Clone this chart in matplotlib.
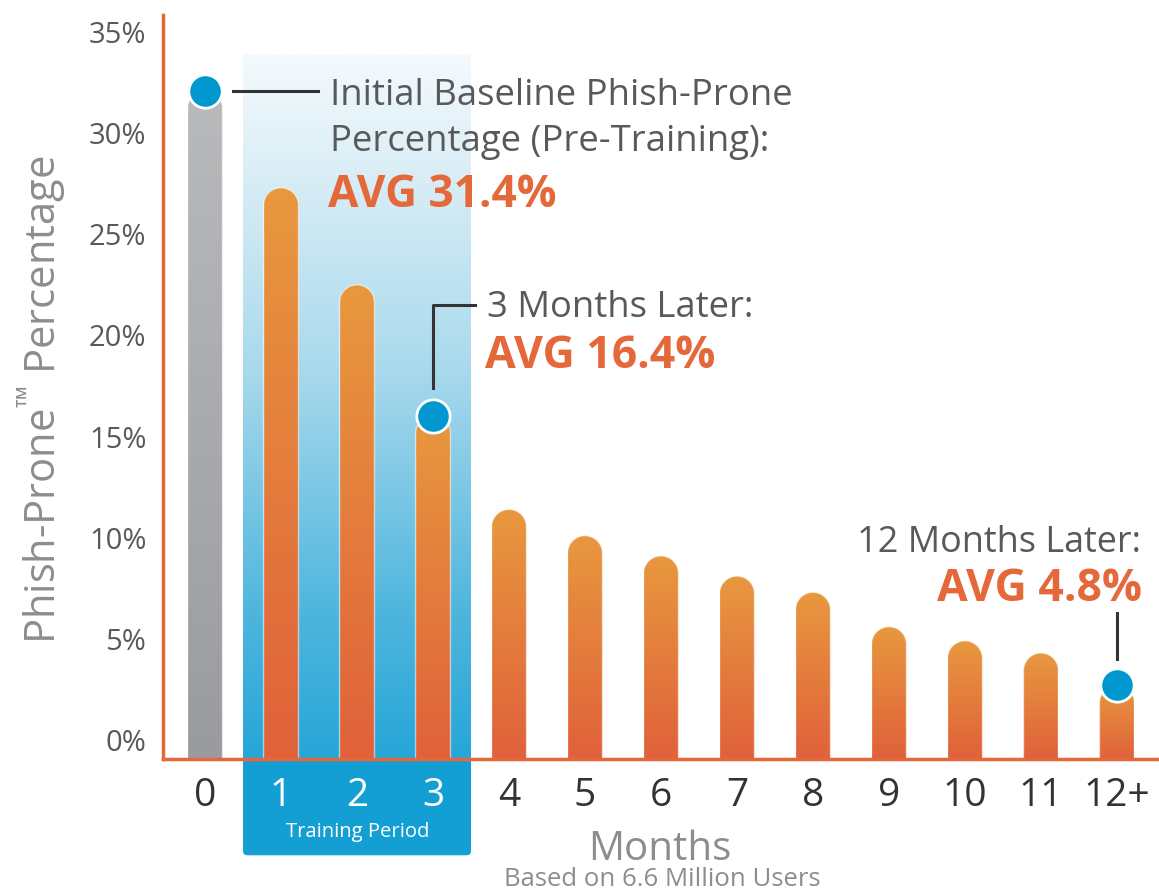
import numpy as np
import matplotlib.pyplot as plt
from matplotlib.patches import FancyBboxPatch, Polygon
from matplotlib.colors import LinearSegmentedColormap

plt.rcParams['font.family'] = ['Open Sans', 'DejaVu Sans']
plt.rcParams['mathtext.fontset'] = 'custom'
plt.rcParams['mathtext.rm'] = 'Open Sans'

# data
months = ['0', '1', '2', '3', '4', '5', '6', '7', '8', '9', '10', '11', '12+']
phish_prone = [32.1, 27.3, 22.5, 16.0, 11.4, 10.1, 9.1, 8.1, 7.3, 5.6, 4.9, 4.3, 2.7]
marked = [0, 3, 12]  # bars that get a blue dot
training = [1, 2, 3]
yticks = [0, 5, 10, 15, 20, 25, 30, 35]

ORANGE = '#E4683A'
DARK = '#58595B'
GREY = '#8C8D8F'

fig = plt.figure(figsize=(11.59, 8.90), dpi=100)
ax = fig.add_axes([163 / 1159, 1 - 759 / 890, 996 / 1159, 744 / 890])
xlim = (-0.553, 12.553)
ylim = (-0.94, 35.84)

# pixels per data unit, needed to make the bar caps round
px_x = 996 / (xlim[1] - xlim[0])
px_y = 744 / (ylim[1] - ylim[0])
aspect = px_x / px_y

orange_cm = LinearSegmentedColormap.from_list('o', ['#E0613A', '#E8983F'])
grey_cm = LinearSegmentedColormap.from_list('g', ['#9A9B9F', '#B9BABC'])
blue_cm = LinearSegmentedColormap.from_list(
    'b', [(0, '#27A6D8'), (0.2, '#4DB5DD'), (0.55, '#A8D9EC'), (0.85, '#DDEFF7'), (1, '#F4FAFD')])
box_cm = LinearSegmentedColormap.from_list('bx', ['#0096CB', '#1DA3D6'])
grad = np.linspace(0, 1, 256).reshape(-1, 1)

# training period background
ax.imshow(grad, extent=[0.5, 3.5, ylim[0], 33.9], origin='lower', cmap=blue_cm,
          aspect='auto', zorder=1)

# blue box under the axis for the training period labels
box = FancyBboxPatch((0.5, -5.7), 3.0, 6.0, boxstyle='round,pad=0,rounding_size=0.06',
                     mutation_aspect=aspect, facecolor='#139FD4', edgecolor='none',
                     clip_on=False, zorder=0.5)
ax.add_patch(box)
bim = ax.imshow(grad, extent=[0.5, 3.5, -5.7, ylim[0]], origin='lower', cmap=box_cm,
                aspect='auto', zorder=0.6)
bim.set_clip_box(None)
bim.set_clip_path(box)

w = 0.46
rx = w / 2
ry = rx * aspect
t = np.linspace(np.pi, 0, 40)
for i, v in enumerate(phish_prone):
    y0 = ylim[0] - 1
    verts = [(i - rx, y0)] + list(zip(i + rx * np.cos(t), v - ry + ry * np.sin(t))) + [(i + rx, y0)]
    patch = Polygon(verts, closed=True, facecolor='none',
                    edgecolor=(1, 1, 1, 0.55), lw=1.0, zorder=3)
    ax.add_patch(patch)
    im = ax.imshow(grad, extent=[i - rx, i + rx, ylim[0], v], origin='lower',
                   cmap=grey_cm if i == 0 else orange_cm, aspect='auto', zorder=2)
    im.set_clip_path(patch)

# blue dots
ax.plot(marked, [phish_prone[i] for i in marked], 'o', ms=24, mfc='#0098CE',
        mec='white', mew=2, zorder=5, clip_on=False)

ax.set_xlim(*xlim)
ax.set_ylim(*ylim)

# axes styling
for s in ['top', 'right']:
    ax.spines[s].set_visible(False)
for s in ['left', 'bottom']:
    ax.spines[s].set_color(ORANGE)
    ax.spines[s].set_linewidth(2.5)
    ax.spines[s].set_zorder(6)

ax.set_yticks(yticks)
ax.set_yticklabels([f'{t}%' for t in yticks], fontsize=21, color=DARK)
ax.set_xticks(range(len(months)))
ax.set_xticklabels(months, fontsize=28, color='#333333')
for i in training:
    ax.get_xticklabels()[i].set_color('white')
ax.tick_params(axis='both', length=0)
ax.tick_params(axis='y', pad=12)
ax.tick_params(axis='x', pad=13)

# connector lines
ax.plot([0.37, 1.49], [phish_prone[0], phish_prone[0]], color='#333333', lw=2.2, zorder=4)
ax.plot([3, 3, 3.55], [17.4, 21.5, 21.5], color='#333333', lw=2.2, zorder=4)
ax.plot([12, 12], [4.0, 6.3], color='#333333', lw=2.2, zorder=4)

# annotation text (positions in figure pixels)
def ftext(x, y, s, **kw):
    fig.text(x / 1159, 1 - y / 890, s, va='baseline', **kw)

ftext(330, 105, 'Initial Baseline Phish-Prone', fontsize=26.3, color=DARK, fontweight='medium')
ftext(330, 151, 'Percentage (Pre-Training):', fontsize=26.3, color=DARK, fontweight='medium')
ftext(328, 207, 'AVG 31.4%', fontsize=31.8, color=ORANGE, fontweight='bold')
ftext(487, 317, '3 Months Later:', fontsize=26.2, color=DARK, fontweight='medium')
ftext(485, 368, 'AVG 16.4%', fontsize=32, color=ORANGE, fontweight='bold')
ftext(1141, 552, '12 Months Later:', fontsize=25.9, color=DARK, ha='right', fontweight='medium')
ftext(1142, 601, 'AVG 4.8%', fontsize=32, color=ORANGE, fontweight='bold', ha='right')
ftext(358, 837, 'Training Period', fontsize=14.6, color='white', ha='center')
ftext(660, 860, 'Months', fontsize=29, color=GREY, ha='center')
ftext(662, 886, 'Based on 6.6 Million Users', fontsize=18.5, color=GREY, ha='center')

fig.text(42 / 1159, 1 - 400 / 890, r'Phish-Prone$^{\mathrm{™}}$ Percentage', rotation=90,
         ha='center', va='center', fontsize=30, color=GREY)

fig.savefig('out.png', dpi=100)
